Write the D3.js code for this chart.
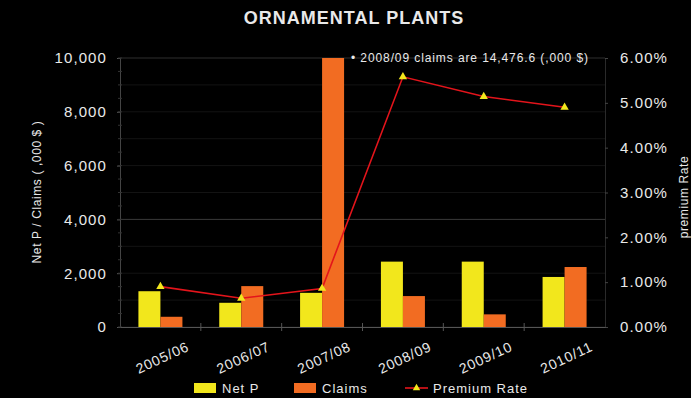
<!DOCTYPE html>
<html>
<head>
<meta charset="utf-8">
<script src="https://cdn.jsdelivr.net/npm/d3@7"></script>
<style>
  html, body { margin: 0; padding: 0; background: #000; }
  svg { display: block; font-family: "Liberation Sans", Arial, sans-serif; }
</style>
</head>
<body>
<svg id="chart" width="691" height="398"></svg>
<script>
// Ornamental plants: net premium and claims (,000 $) with premium rate
const years = ["2005/06", "2006/07", "2007/08", "2008/09", "2009/10", "2010/11"];
const netP = [1330, 900, 1270, 2430, 2430, 1860];
const claims = [380, 1520, 14476.6, 1150, 470, 2230];
const premiumRate = [0.90, 0.64, 0.86, 5.58, 5.14, 4.90];
const leftTicks = [0, 2000, 4000, 6000, 8000, 10000];
const rightTicks = [0, 1, 2, 3, 4, 5, 6];

const svg = d3.select("#chart");
const W = 691, H = 398;
const m = { top: 58, right: 86, bottom: 71, left: 120 };
const plotW = W - m.left - m.right;
const plotH = H - m.top - m.bottom;

const YELLOW = "#f2e71c";
const ORANGE = "#f26c22";
const RED = "#e3141b";
const TEXT = "#e9e9e9";

svg.append("rect").attr("width", W).attr("height", H).attr("fill", "#000");

const g = svg.append("g").attr("transform", `translate(${m.left},${m.top})`);

const x = d3.scaleBand().domain(years).range([0, plotW]).padding(0);
const bw = x.bandwidth();
const x1 = d3.scaleBand().domain(["netP", "claims"]).range([bw / 2 - 22, bw / 2 + 22]).padding(0);
const y = d3.scaleLinear().domain([0, 10000]).range([plotH, 0]).clamp(true);
const yR = d3.scaleLinear().domain([0, 6]).range([plotH, 0]);

// faint horizontal gridlines
g.append("g").selectAll("line")
  .data(d3.range(0, 10001, 1000))
  .join("line")
  .attr("x1", 0).attr("x2", plotW)
  .attr("y1", d => y(d)).attr("y2", d => y(d))
  .attr("stroke", d => d === 4000 ? "#3a3a3a" : (d === 10000 ? "#2e2e2e" : "#131313"))
  .attr("stroke-width", 1);

// bars
const groups = g.append("g").selectAll("g")
  .data(years.map((yr, i) => ({ yr, netP: netP[i], claims: claims[i] })))
  .join("g")
  .attr("transform", d => `translate(${x(d.yr)},0)`);

groups.selectAll("rect")
  .data(d => [{ k: "netP", v: d.netP }, { k: "claims", v: d.claims }])
  .join("rect")
  .attr("x", d => x1(d.k))
  .attr("width", x1.bandwidth())
  .attr("y", d => y(d.v))
  .attr("height", d => plotH - y(d.v))
  .attr("fill", d => d.k === "netP" ? YELLOW : ORANGE);

// left axis
const axL = g.append("g").call(
  d3.axisLeft(y).tickValues(leftTicks).tickFormat(d3.format(",")).tickSize(3).tickPadding(10)
);
axL.select(".domain").attr("stroke", "#444");
axL.selectAll(".tick line").attr("stroke", "#555");
axL.selectAll("text").attr("fill", TEXT).attr("font-size", 15).attr("letter-spacing", "1.1px");
// minor ticks on left axis
g.append("g").selectAll("line")
  .data(d3.range(0, 10001, 500))
  .join("line")
  .attr("x1", -2).attr("x2", 2)
  .attr("y1", d => y(d)).attr("y2", d => y(d))
  .attr("stroke", "#333");

// right axis
const axR = g.append("g").attr("transform", `translate(${plotW},0)`).call(
  d3.axisRight(yR).tickValues(rightTicks).tickFormat(d => d3.format(".2f")(d) + "%").tickSize(3).tickPadding(12)
);
axR.select(".domain").attr("stroke", "#2a2a2a");
axR.selectAll(".tick line").attr("stroke", "#444");
axR.selectAll("text").attr("fill", TEXT).attr("font-size", 15).attr("letter-spacing", "1.1px");

// bottom axis
const axB = g.append("g").attr("transform", `translate(0,${plotH})`).call(
  d3.axisBottom(x).tickSize(0).tickPadding(0)
);
axB.select(".domain").attr("stroke", "#555");
axB.selectAll(".tick text")
  .attr("fill", TEXT)
  .attr("font-size", 14)
  .attr("letter-spacing", "0.9px")
  .attr("text-anchor", "middle")
  .attr("dy", 0)
  .attr("transform", "translate(4,35) rotate(-25)");
// tick marks at category boundaries
g.append("g").selectAll("line")
  .data(years.slice(1))
  .join("line")
  .attr("x1", d => x(d)).attr("x2", d => x(d))
  .attr("y1", plotH - 4).attr("y2", plotH + 4)
  .attr("stroke", "#555");

// premium rate line
const line = d3.line()
  .x((d, i) => x(years[i]) + bw / 2)
  .y(d => yR(d));
g.append("path")
  .datum(premiumRate)
  .attr("d", line)
  .attr("fill", "none")
  .attr("stroke", RED)
  .attr("stroke-width", 1.6);
const tri = d3.symbol().type(d3.symbolTriangle).size(30);
g.append("g").selectAll("path")
  .data(premiumRate)
  .join("path")
  .attr("d", tri)
  .attr("transform", (d, i) => `translate(${x(years[i]) + bw / 2},${yR(d)})`)
  .attr("fill", YELLOW);

// title
svg.append("text")
  .attr("x", 354).attr("y", 24)
  .attr("text-anchor", "middle")
  .attr("fill", TEXT)
  .attr("font-size", 18)
  .attr("font-weight", "bold")
  .attr("letter-spacing", "1px")
  .text("ORNAMENTAL PLANTS");

// note on the clipped claims bar
svg.append("text")
  .attr("x", 351).attr("y", 62)
  .attr("fill", TEXT)
  .attr("font-size", 12)
  .attr("letter-spacing", "0.9px")
  .text("• 2008/09 claims are 14,476.6 (,000 $)");

// axis titles
svg.append("text")
  .attr("transform", "translate(41,192) rotate(-90)")
  .attr("text-anchor", "middle")
  .attr("fill", TEXT)
  .attr("font-size", 12)
  .attr("letter-spacing", "0.6px")
  .text("Net P / Claims ( ,000 $ )");
svg.append("text")
  .attr("transform", "translate(688,197) rotate(-90)")
  .attr("text-anchor", "middle")
  .attr("fill", TEXT)
  .attr("font-size", 12)
  .attr("letter-spacing", "0.6px")
  .text("premium Rate");

// legend
const legend = svg.append("g").attr("transform", "translate(0,388)");
const items = [
  { label: "Net P", type: "rect", color: YELLOW, x: 194 },
  { label: "Claims", type: "rect", color: ORANGE, x: 294 },
  { label: "Premium Rate", type: "line", color: RED, x: 405 }
];
items.forEach(it => {
  if (it.type === "rect") {
    legend.append("rect").attr("x", it.x).attr("y", -5).attr("width", 22).attr("height", 10).attr("fill", it.color);
  } else {
    legend.append("line").attr("x1", it.x).attr("x2", it.x + 23).attr("y1", 0).attr("y2", 0)
      .attr("stroke", it.color).attr("stroke-width", 1.6);
    legend.append("path").attr("d", d3.symbol().type(d3.symbolTriangle).size(24))
      .attr("transform", `translate(${it.x + 11.5},0)`).attr("fill", YELLOW);
  }
  legend.append("text")
    .attr("x", it.x + 28).attr("y", 5)
    .attr("fill", TEXT)
    .attr("font-size", 13)
    .attr("letter-spacing", "1px")
    .text(it.label);
});
</script>
</body>
</html>
